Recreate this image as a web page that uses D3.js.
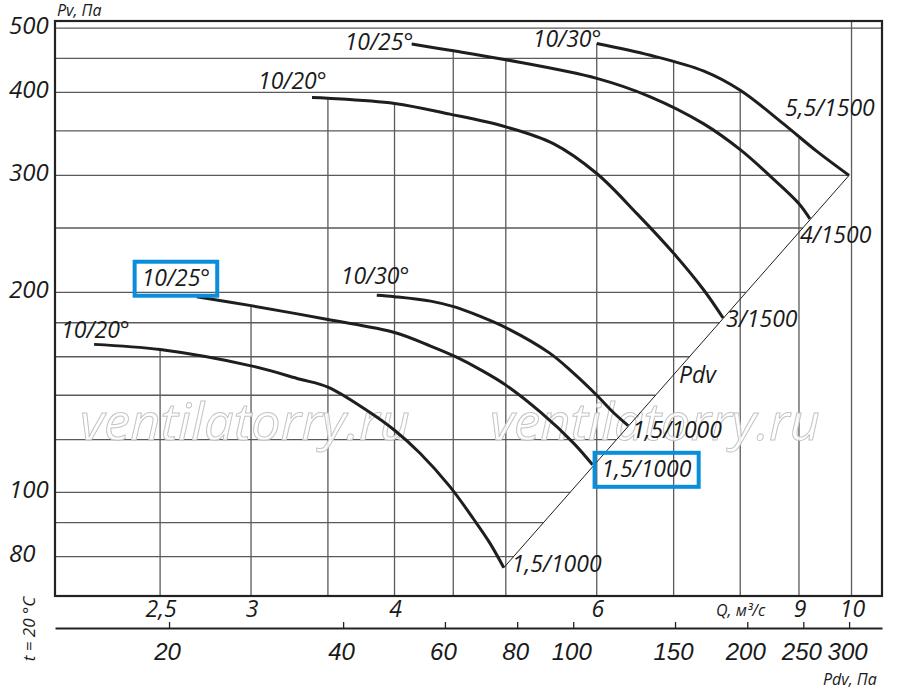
<!DOCTYPE html>
<html>
<head>
<meta charset="utf-8">
<script src="https://cdnjs.cloudflare.com/ajax/libs/d3/7.8.5/d3.min.js"></script>
<style>
	html, body { margin: 0; padding: 0; background: #fff; }
	svg { display: block; font-family: "Open Sans", sans-serif; font-style: italic; fill: #1a1a1a; }
	.grid line { stroke: #5a5a5a; stroke-width: 1.3; }
	.curve { fill: none; stroke: #1e1e1e; stroke-width: 3; stroke-linecap: butt; }
	.pdv-line { fill: none; stroke: #1e1e1e; stroke-width: 1; }
	.frame { fill: none; stroke: #222; stroke-width: 2.2; }
	.lbl { font-size: 23px; }
	.small { font-size: 16px; }
	.watermark { font-size: 52px; fill: #fff; fill-opacity: 0.85; stroke: #c4c4c4; stroke-width: 1; }
	.mark-box { fill: none; stroke: #0a8edb; stroke-width: 4; }
</style>
</head>
<body>
<div class="fan-chart"></div>
<script>
// Q, m3/s
var qGrid = [2.5, 3, 3.5, 4, 4.5, 5, 6, 7, 8, 9, 10];
var qTicks = [2.5, 3, 4, 6, 9, 10];
var qTickLabels = ["2,5", "3", "4", "6", "9", "10"];

// Pv, Pa
var pvGrid = [80, 90, 100, 120, 140, 160, 180, 200, 250, 300, 350, 400, 450, 500];
var pvTicks = [80, 100, 200, 300, 400, 500];

// Pdv, Pa
var pdvTicks = [20, 40, 60, 80, 100, 150, 200, 250, 300];

// [Q, Pv], 1500 rpm
var pv1500_20 = [[3.39, 393], [3.5, 392], [4.0, 385], [4.47, 371], [5.0, 355], [5.5, 335], [6.0, 302], [6.5, 263], [7.0, 229], [7.43, 202], [7.73, 183]];
var pv1500_25 = [[4.14, 473], [4.47, 463], [5.0, 448], [6.0, 420], [6.68, 394], [7.43, 359], [8.0, 328], [8.5, 299], [9.0, 272], [9.2, 258]];
var pv1500_30 = [[6.0, 474], [6.68, 455], [7.43, 431], [8.0, 403], [8.72, 359], [9.33, 326], [9.95, 300]];

// 1000 rpm
var pv1000_20 = [[2.19, 167], [2.5, 164], [3.0, 155], [3.31, 148], [3.5, 144], [3.78, 133], [4.0, 124], [4.21, 114.5], [4.47, 102], [4.69, 91], [4.84, 84], [4.98, 77]];
var pv1000_25 = [[2.69, 197], [3.0, 191], [3.5, 182], [4.0, 174], [4.3, 166], [4.52, 160], [4.75, 153], [5.0, 145], [5.36, 132], [5.73, 118.5], [5.95, 110]];
var pv1000_30 = [[3.86, 198], [4.0, 197], [4.3, 194], [4.52, 190], [4.75, 184], [5.0, 177], [5.46, 162], [5.73, 151], [6.0, 140], [6.2, 132], [6.39, 126]];

// dynamic pressure line through the curve ends
var pdvLine = [[4.98, 77], [9.95, 300]];

var curveStartLabels = ["10/20°", "10/25°", "10/30°", "10/20°", "10/25°", "10/30°"];
var curveEndLabels = ["3/1500", "4/1500", "5,5/1500", "1,5/1000", "1,5/1000", "1,5/1000"];

var FanChart = function(config){
	this.container_selector = config.container_selector || "div.fan-chart";
	this.width = 900;
	this.height = 692;
	this.margin = {left: 55, top: 21, right: 18, bottom: 96};
	this.curves = config.curves;
	this.init();
}

FanChart.prototype.init = function(){
	var self = this;
	self.w = self.width - self.margin.left - self.margin.right;
	self.h = self.height - self.margin.top - self.margin.bottom;

	self.svg = d3.select(self.container_selector)
		.append("svg")
		.attr("width", self.width)
		.attr("height", self.height);

	self.x = d3.scaleLog().domain([2.025, 10.63]).range([self.margin.left, self.margin.left + self.w]);
	self.y = d3.scaleLog().domain([69.8, 512.4]).range([self.margin.top + self.h, self.margin.top]);
	// the Pdv scale is drawn a bit off the Q scale on the original, fitted separately
	self.xPdv = d3.scaleLog().domain([12.7, 342]).range([self.margin.left, self.margin.left + self.w]);
}

// Pv on a polyline at given Q (log-log interpolation), null when outside
FanChart.prototype.pvAt = function(points, q){
	for(var i = 0; i < points.length - 1; i++){
		var a = points[i], b = points[i+1];
		if(q >= a[0] && q <= b[0]){
			var t = Math.log(q / a[0]) / Math.log(b[0] / a[0]);
			return Math.exp(Math.log(a[1]) + t * Math.log(b[1] / a[1]));
		}
	}
	return null;
}

FanChart.prototype.qAt = function(points, p){
	var found = null;
	for(var i = 0; i < points.length - 1; i++){
		var a = points[i], b = points[i+1];
		var lo = Math.min(a[1], b[1]), hi = Math.max(a[1], b[1]);
		if(p >= lo && p <= hi){
			var t = Math.log(p / a[1]) / Math.log(b[1] / a[1]);
			var q = Math.exp(Math.log(a[0]) + t * Math.log(b[0] / a[0]));
			if(found === null || q > found) found = q;
		}
	}
	return found;
}

FanChart.prototype.render = function(){
	var self = this;
	var all = self.curves.concat([pdvLine]);

	// grid lines stop where the field of curves ends
	var grid = self.svg.append("g").classed("grid", true);
	grid.selectAll("line.v")
		.data(qGrid)
		.enter()
		.append("line")
		.classed("v", true)
		.attr("x1", function(d){ return self.x(d); })
		.attr("x2", function(d){ return self.x(d); })
		.attr("y1", self.margin.top + self.h)
		.attr("y2", function(d){
			var top = d3.max(all, function(c){ return self.pvAt(c, d); });
			return top ? self.y(top) : self.margin.top;
		});

	grid.selectAll("line.h")
		.data(pvGrid)
		.enter()
		.append("line")
		.classed("h", true)
		.attr("y1", function(d){ return self.y(d); })
		.attr("y2", function(d){ return self.y(d); })
		.attr("x1", self.margin.left)
		.attr("x2", function(d){
			var right = d3.max(all, function(c){ return self.qAt(c, d); });
			return right ? self.x(right) : self.margin.left + self.w;
		});

	// watermark
	self.svg.selectAll("text.watermark")
		.data([80, 490])
		.enter()
		.append("text")
		.classed("watermark", true)
		.attr("x", function(d){ return d; })
		.attr("y", 440)
		.attr("textLength", 330)
		.attr("lengthAdjust", "spacingAndGlyphs")
		.text("ventilatorry.ru");

	self.svg.append("rect")
		.classed("frame", true)
		.attr("x", self.margin.left)
		.attr("y", self.margin.top)
		.attr("width", self.w)
		.attr("height", self.h);

	var line = d3.line()
		.x(function(d){ return self.x(d[0]); })
		.y(function(d){ return self.y(d[1]); })
		.curve(d3.curveCatmullRom.alpha(0.5));

	self.svg.append("path")
		.datum(pdvLine)
		.classed("pdv-line", true)
		.attr("d", d3.line()
			.x(function(d){ return self.x(d[0]); })
			.y(function(d){ return self.y(d[1]); }));

	self.svg.selectAll("path.curve")
		.data(self.curves)
		.enter()
		.append("path")
		.classed("curve", true)
		.attr("d", line);

	// label offsets from curve start / end, px
	var startOff = [[-54, -9], [-67, 6], [-64, 4], [-33, -6], [-55, -11], [-36, -11]];
	var endOff = [[3, 9], [-10, 24], [-64, -59], [8, 4], [9, 12], [4, 12]];

	var labels = self.svg.append("g").classed("curve-labels", true);
	var startTexts = labels.selectAll("text.start")
		.data(self.curves)
		.enter()
		.append("text")
		.classed("lbl start", true)
		.attr("x", function(d, i){ return self.x(d[0][0]) + startOff[i][0]; })
		.attr("y", function(d, i){ return self.y(d[0][1]) + startOff[i][1]; })
		.text(function(d, i){ return curveStartLabels[i]; });

	var endTexts = labels.selectAll("text.end")
		.data(self.curves)
		.enter()
		.append("text")
		.classed("lbl end", true)
		.attr("x", function(d, i){ return self.x(d[d.length-1][0]) + endOff[i][0]; })
		.attr("y", function(d, i){ return self.y(d[d.length-1][1]) + endOff[i][1]; })
		.text(function(d, i){ return curveEndLabels[i]; });

	// Pdv caption along the dynamic pressure line
	var p0 = [self.x(pdvLine[0][0]), self.y(pdvLine[0][1])];
	var p1 = [self.x(pdvLine[1][0]), self.y(pdvLine[1][1])];
	labels.append("text")
		.classed("lbl", true)
		.attr("x", p0[0] + (p1[0] - p0[0]) * 0.49 + 6)
		.attr("y", p0[1] + (p1[1] - p0[1]) * 0.49 + 8)
		.text("Pdv");

	// blue boxes round the 10/25 curve of 1000 rpm
	[startTexts.nodes()[4], endTexts.nodes()[4]].forEach(function(node){
		var bb = node.getBBox();
		self.svg.append("rect")
			.classed("mark-box", true)
			.attr("x", bb.x - 7)
			.attr("y", bb.y + 1)
			.attr("width", bb.width + 14)
			.attr("height", bb.height + 2);
	});

	// Pv axis
	self.svg.append("g")
		.classed("y axis", true)
		.selectAll("text")
		.data(pvTicks)
		.enter()
		.append("text")
		.classed("lbl", true)
		.style("font-size", "24px")
		.attr("x", 9)
		.attr("y", function(d){ return self.y(d) + 5.5; })
		.text(function(d){ return d; });

	self.svg.append("text")
		.classed("small", true)
		.attr("x", 57)
		.attr("y", 16)
		.text("Pv, Па");

	// Q axis, labels only
	self.svg.append("g")
		.classed("x axis", true)
		.selectAll("text")
		.data(qTicks)
		.enter()
		.append("text")
		.classed("lbl", true)
		.attr("text-anchor", "middle")
		.attr("x", function(d){ return self.x(d) + 1; })
		.attr("y", self.margin.top + self.h + 21)
		.text(function(d, i){ return qTickLabels[i]; });

	self.svg.append("text")
		.classed("small", true)
		.attr("x", 716)
		.attr("y", 616)
		.text("Q, м³/с");

	// Pdv axis under the plot
	var axisPdv = d3.axisBottom(self.xPdv)
		.tickValues(pdvTicks)
		.tickSizeInner(-6)
		.tickSizeOuter(0)
		.tickFormat(function(d){ return d; });

	var pdvAxis = self.svg.append("g")
		.classed("pdv axis", true)
		.attr("transform", "translate(0," + (self.margin.top + self.h + 32) + ")")
		.call(axisPdv);
	pdvAxis.select(".domain")
		.attr("stroke", "#222")
		.attr("stroke-width", 2);
	pdvAxis.selectAll(".tick line")
		.attr("stroke", "#222")
		.attr("stroke-width", 1.3);
	pdvAxis.selectAll(".tick text")
		.attr("fill", "#1a1a1a")
		.attr("font-family", null)
		.attr("font-size", null)
		.classed("lbl", true)
		.style("font-size", "24px")
		.attr("x", -2)
		.attr("y", 32)
		.attr("dy", 0);

	self.svg.append("text")
		.classed("small", true)
		.attr("x", 823)
		.attr("y", 685)
		.text("Pdv, Па");

	self.svg.append("text")
		.classed("small", true)
		.style("font-size", "17px")
		.attr("text-anchor", "middle")
		.attr("transform", "translate(35,629) rotate(-90)")
		.text("t = 20 °C");
}

var chart = new FanChart({
	container_selector: "div.fan-chart",
	curves: [pv1500_20, pv1500_25, pv1500_30, pv1000_20, pv1000_25, pv1000_30]
});
chart.render();
</script>
</body>
</html>
